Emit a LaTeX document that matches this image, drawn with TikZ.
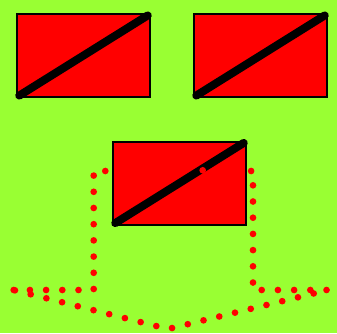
\documentclass[tikz,border=0pt]{standalone}
\usepackage{xcolor}
\usetikzlibrary{calc}
\definecolor{fond}{RGB}{153,255,51}

\begin{document}
\begin{tikzpicture}[x=0.03cm,y=-0.03cm,
		boite/.style={draw=black,line width=0.6mm,fill=red,minimum width=3.99cm,minimum height=2.49cm,inner sep=0pt,outer sep=0pt},
		diago/.style={line width=2.4mm,line cap=round,shorten <=0.8mm,shorten >=0.8mm},
		pointille/.style={red,line width=2mm,line cap=round,dash pattern=on 0pt off 4.86mm}]
		\useasboundingbox[fill=fond](0,0)rectangle(337,333);
		% le chemin en pointilles
		\coordinate (p1) at (13.7,290);\coordinate (p2) at (93.7,290);\coordinate (p3) at (93.7,171);
		\coordinate (p4) at (253,171);\coordinate (p5) at (253,290);\coordinate (p6) at (328,290);\coordinate (p7) at (168,329);
		\draw[pointille](p1)--(p2)--(p3)--(p4)--(p5)--(p6)--(p7)--cycle;
		% les trois rectangles
		\foreach \n/\x/\y in{1/83.5/55.5,2/260.5/55.5,3/179.5/183}{
				\node[boite](r\n) at (\x,\y){};\draw[diago](r\n.south west)--(r\n.north east);}
		\fill[red](202.7,170.3)circle(1mm);
	\end{tikzpicture}
\end{document}
